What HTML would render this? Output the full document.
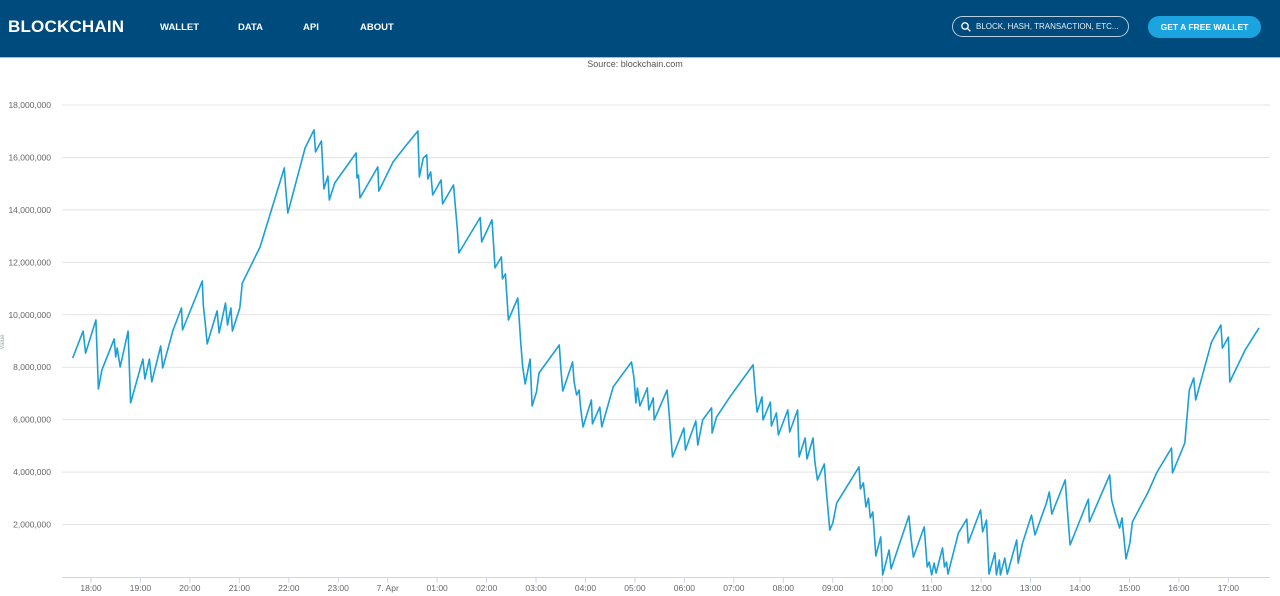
<!DOCTYPE html>
<html><head><meta charset="utf-8">
<style>
body{margin:0;width:1280px;height:596px;overflow:hidden;background:#fff;font-family:"Liberation Sans",sans-serif;position:relative}
#hdr{position:absolute;left:0;top:0;width:1280px;height:57px;background:#004b7d;border-bottom:1px solid #8cc3e6}
.logo{position:absolute;left:8px;top:17px;color:#fff;font-weight:bold;font-size:17px;letter-spacing:0.2px}
.nav{position:absolute;top:22px;color:#fff;font-weight:bold;font-size:9.5px}
#search{position:absolute;left:952px;top:16px;width:177px;height:21px;border:1px solid #b9cde0;border-radius:11px;color:#e8f0f7;font-size:8px;box-sizing:border-box}
#btn{position:absolute;left:1148px;top:16px;width:113px;height:22px;border-radius:11px;background:#1ba4e0;color:#fff;font-weight:bold;font-size:8.5px;text-align:center;line-height:22px}
#src{position:absolute;left:0;width:1270px;top:59px;text-align:center;font-size:9px;color:#555}
</style></head><body>
<div id="hdr">
<div class="logo">BLOCKCHAIN</div>
<div class="nav" style="left:160px">WALLET</div>
<div class="nav" style="left:238px">DATA</div>
<div class="nav" style="left:303px">API</div>
<div class="nav" style="left:360px">ABOUT</div>
<div id="search">
<svg style="position:absolute;left:8px;top:5px" width="10" height="10"><circle cx="4" cy="4" r="3.2" fill="none" stroke="#fff" stroke-width="1.3"/><line x1="6.3" y1="6.3" x2="9.3" y2="9.3" stroke="#fff" stroke-width="1.4"/></svg>
<span style="position:absolute;left:23px;top:5px">BLOCK, HASH, TRANSACTION, ETC...</span></div>
<div id="btn">GET A FREE WALLET</div>
</div>
<div id="src">Source: blockchain.com</div>
<svg id="chart" width="1280" height="596" style="position:absolute;left:0;top:0"></svg>
<script>
const yTicks=[2,4,6,8,10,12,14,16,18];
const yTickLabels=["2,000,000","4,000,000","6,000,000","8,000,000","10,000,000","12,000,000","14,000,000","16,000,000","18,000,000"];
const xTicks=[0,1,2,3,4,5,6,7,8,9,10,11,12,13,14,15,16,17,18,19,20,21,22,23];
const xTickLabels=["18:00","19:00","20:00","21:00","22:00","23:00","7. Apr","01:00","02:00","03:00","04:00","05:00","06:00","07:00","08:00","09:00","10:00","11:00","12:00","13:00","14:00","15:00","16:00","17:00"];
const times=[-0.37,-0.16,-0.11,0.10,0.15,0.22,0.47,0.50,0.53,0.59,0.75,0.80,1.05,1.09,1.18,1.23,1.41,1.45,1.66,1.83,1.85,2.25,2.27,2.31,2.35,2.55,2.59,2.72,2.76,2.83,2.86,3.01,3.06,3.42,3.91,3.94,3.98,4.33,4.51,4.54,4.66,4.71,4.79,4.82,4.93,5.36,5.38,5.41,5.44,5.80,5.82,6.11,6.38,6.61,6.64,6.72,6.79,6.81,6.87,6.91,7.08,7.11,7.33,7.41,7.44,7.87,7.90,8.11,8.17,8.30,8.32,8.38,8.44,8.63,8.69,8.73,8.78,8.88,8.92,9.01,9.06,9.47,9.50,9.54,9.74,9.77,9.82,9.87,9.90,9.95,10.12,10.14,10.29,10.33,10.56,10.93,10.98,11.02,11.05,11.10,11.25,11.28,11.37,11.39,11.65,11.69,11.76,11.99,12.02,12.23,12.27,12.37,12.55,12.56,12.65,12.92,13.39,13.43,13.47,13.57,13.59,13.74,13.76,13.86,13.90,14.09,14.13,14.29,14.32,14.44,14.48,14.60,14.64,14.69,14.83,14.86,14.94,15.00,15.08,15.53,15.56,15.62,15.67,15.72,15.76,15.81,15.87,15.97,16.01,16.14,16.18,16.54,16.58,16.63,16.85,16.91,16.95,17.00,17.05,17.09,17.22,17.26,17.30,17.33,17.54,17.71,17.74,17.99,18.03,18.11,18.16,18.28,18.31,18.37,18.39,18.48,18.53,18.72,18.75,18.84,19.02,19.09,19.32,19.38,19.43,19.70,19.73,19.80,20.17,20.19,20.60,20.64,20.71,20.80,20.85,20.93,21.01,21.06,21.38,21.55,21.85,21.87,22.12,22.21,22.30,22.34,22.66,22.85,22.88,23.00,23.03,23.34,23.62];
const values=[8.35,9.38,8.54,9.80,7.17,7.90,9.08,8.39,8.73,8.01,9.38,6.64,8.31,7.55,8.31,7.44,8.81,7.97,9.42,10.26,9.42,11.29,10.37,9.69,8.89,10.15,9.31,10.45,9.61,10.26,9.38,10.26,11.21,12.59,15.60,14.76,13.88,16.36,17.05,16.21,16.63,14.80,15.29,14.38,15.03,16.17,15.22,15.33,14.46,15.64,14.72,15.83,16.48,17.01,15.26,15.98,16.10,15.18,15.45,14.57,15.14,14.23,14.95,13.23,12.36,13.71,12.78,13.62,11.79,12.21,11.37,11.56,9.80,10.64,8.96,8.01,7.36,8.31,6.52,7.06,7.78,8.85,7.97,7.09,8.20,7.44,6.94,7.13,6.45,5.72,6.75,5.84,6.48,5.72,7.25,8.20,7.59,6.64,7.21,6.52,7.21,6.37,6.83,5.99,7.13,6.26,4.58,5.68,4.84,5.95,5.03,5.99,6.45,5.49,6.10,6.87,8.09,7.13,6.29,6.87,5.99,6.67,5.76,6.26,5.42,6.37,5.53,6.37,4.58,5.30,4.50,5.30,4.39,3.70,4.31,3.51,1.79,2.06,2.82,4.20,3.36,3.59,2.67,3.01,2.25,2.48,0.80,1.53,0.08,1.03,0.31,2.33,1.53,0.76,1.91,0.38,0.57,0.08,0.53,0.15,1.11,0.38,0.57,0.11,1.68,2.21,1.30,2.56,1.72,2.17,0.11,0.92,0.08,0.65,0.08,0.72,0.11,1.41,0.53,1.30,2.36,1.60,2.82,3.24,2.40,3.70,2.94,1.22,2.97,2.10,3.89,2.94,2.44,1.87,2.25,0.69,1.30,2.10,3.24,3.97,4.92,3.97,5.11,7.13,7.59,6.75,8.96,9.61,8.73,9.15,7.44,8.66,9.50];
const NS="http://www.w3.org/2000/svg";
const svg=document.getElementById('chart');
const X=t=>91+t*49.45;
const Y=v=>577-v*26.22;
function mk(tag,at){const e=document.createElementNS(NS,tag);for(const k in at)e.setAttribute(k,at[k]);svg.appendChild(e);return e;}
yTicks.forEach((v,i)=>{
  const g=mk('line',{x1:62,x2:1270,y1:Y(v),y2:Y(v),stroke:'#e3e3e3','stroke-width':1});
  
  
  const t=mk('text',{x:51,y:Y(v)+3,'text-anchor':'end','font-size':'8.5','fill':'#666','font-family':'Liberation Sans, sans-serif'});
  t.textContent=yTickLabels[i];
  
  
});
const ax=mk('line',{x1:62,x2:1270,y1:577.5,y2:577.5,stroke:'#ccd6eb','stroke-width':1});


xTicks.forEach((h,i)=>{
  const tk=mk('line',{x1:X(h),x2:X(h),y1:577,y2:583,stroke:'#ccd6eb'});
  
  
  const t=mk('text',{x:X(h),y:591,'text-anchor':'middle','font-size':'8.5','fill':'#666','font-family':'Liberation Sans, sans-serif'});
  t.textContent=xTickLabels[i];
  
  
});
const yt=mk('text',{x:4,y:342,'font-size':'6','fill':'#8aa','transform':'rotate(-90 4 342)','text-anchor':'middle'});
yt.textContent='Value';


const d=times.map((t,i)=>(i?'L':'M')+X(t).toFixed(1)+','+Y(values[i]).toFixed(1)).join('');
const p=mk('path',{d:d,fill:'none',stroke:'#1b9fd5','stroke-width':1.6,'stroke-linejoin':'round'});


</script>
</body></html>
